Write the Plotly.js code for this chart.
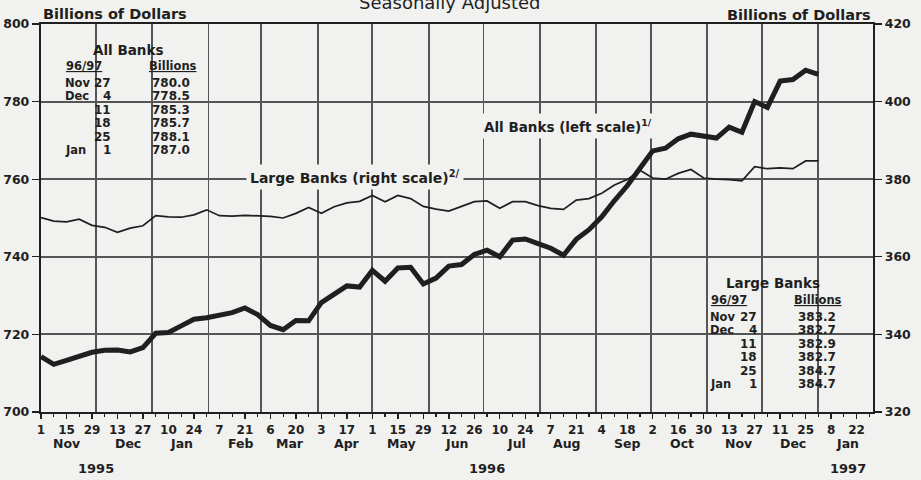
<!DOCTYPE html>
<html>
<head>
<meta charset="utf-8">
<script src="https://cdn.plot.ly/plotly-3.0.1.min.js"></script>
<style>
html,body{margin:0;padding:0;background:#f1f1ef;}
#chart{width:921px;height:480px;}
</style>
</head>
<body>
<div id="chart"></div>
<script>
// ---------- DATA ----------
const weeks = [
 '1995-11-01','1995-11-08','1995-11-15','1995-11-22','1995-11-29','1995-12-06','1995-12-13','1995-12-20','1995-12-27',
 '1996-01-03','1996-01-10','1996-01-17','1996-01-24','1996-01-31','1996-02-07','1996-02-14','1996-02-21','1996-02-28',
 '1996-03-06','1996-03-13','1996-03-20','1996-03-27','1996-04-03','1996-04-10','1996-04-17','1996-04-24',
 '1996-05-01','1996-05-08','1996-05-15','1996-05-22','1996-05-29','1996-06-05','1996-06-12','1996-06-19','1996-06-26',
 '1996-07-03','1996-07-10','1996-07-17','1996-07-24','1996-07-31','1996-08-07','1996-08-14','1996-08-21','1996-08-28',
 '1996-09-04','1996-09-11','1996-09-18','1996-09-25','1996-10-02','1996-10-09','1996-10-16','1996-10-23','1996-10-30',
 '1996-11-06','1996-11-13','1996-11-20','1996-11-27','1996-12-04','1996-12-11','1996-12-18','1996-12-25','1997-01-01'
];
const allBanks = [
 714.3,712.3,713.3,714.5,715.4,715.9,716.0,715.5,716.6,
 720.3,720.5,722.2,723.9,724.3,725.0,725.6,726.8,725.1,
 722.3,721.2,723.6,723.5,728.2,730.4,732.5,732.2,
 736.5,733.7,737.1,737.3,733.0,734.5,737.6,738.0,740.6,
 741.7,740.0,744.3,744.6,743.4,742.2,740.4,744.5,747.0,
 750.3,754.5,758.3,762.8,767.3,768.0,770.4,771.6,771.0,
 770.6,773.4,772.1,780.0,778.5,785.3,785.7,788.1,787.0
];
const largeBanks = [
 370.1,369.2,369.0,369.7,368.1,367.6,366.3,367.4,368.0,
 370.6,370.3,370.2,370.8,372.1,370.6,370.5,370.7,370.6,
 370.4,370.0,371.2,372.7,371.2,372.9,373.9,374.3,
 375.8,374.2,375.8,375.0,373.0,372.3,371.8,373.0,374.2,
 374.4,372.5,374.2,374.2,373.2,372.5,372.2,374.6,375.0,
 376.4,378.5,379.9,382.3,380.3,380.0,381.5,382.5,380.3,
 380.0,379.9,379.6,383.2,382.7,382.9,382.7,384.7,384.7
];
const leftTicks = [700,720,740,760,780,800];
const rightTicks = [320,340,360,380,400,420];
const monthStarts = ['1995-12-01','1996-01-01','1996-02-01','1996-03-01','1996-04-01','1996-05-01','1996-06-01',
 '1996-07-01','1996-08-01','1996-09-01','1996-10-01','1996-11-01','1996-12-01','1997-01-01'];
const monthLabels = ['Nov','Dec','Jan','Feb','Mar','Apr','May','Jun','Jul','Aug','Sep','Oct','Nov','Dec','Jan'];
const monthLabelDates = ['1995-11-15','1995-12-19','1996-01-17','1996-02-19','1996-03-17','1996-04-17','1996-05-17',
 '1996-06-16','1996-07-19','1996-08-16','1996-09-18','1996-10-18','1996-11-18','1996-12-18','1997-01-17'];
const yearLabels = ['1995','1996','1997'];
const yearLabelDates = ['1995-12-01','1996-07-03','1997-01-17'];
const tblMonths = ['Nov','Dec','','','','Jan'];
const tblDays = ['27','4','11','18','25','1'];
const allTblVals = ['780.0','778.5','785.3','785.7','788.1','787.0'];
const largeTblVals = ['383.2','382.7','382.9','382.7','384.7','384.7'];

// ---------- LAYOUT HELPERS ----------
const W = 921, H = 480, L = 41, R = 48, T = 24, B = 68;
const PW = W - L - R, PH = H - T - B;
const px = X => (X - L) / PW;
const py = Y => 1 - (Y - T) / PH;
const BG = '#f1f1ef';
const INK = '#1f1f1f';
const GRID = '#555555';
const FAM = 'DejaVu Sans';
const f = (size, weight) => ({family: FAM, size: size, color: INK, weight: weight || 'bold'});

const ann = [];
function txt(X, Y, text, size, xanchor, extra) {
  ann.push(Object.assign({xref:'paper', yref:'paper', x:px(X), y:py(Y), text:text, showarrow:false,
    xanchor:xanchor||'center', yanchor:'middle', font:f(size)}, extra||{}));
}
// title (cut off at top in the reference)
txt(450, 3, 'Seasonally Adjusted', 18, 'center', {font:f(18,'normal')});
txt(41, 14, 'Billions of Dollars', 14.5, 'left');
txt(873, 15, 'Billions of Dollars', 14.5, 'right');
// series labels
txt(480, 126, 'All Banks (left scale)<sup>1/</sup>', 13.5, 'left', {bgcolor:BG, borderpad:3});
txt(246, 177, 'Large Banks (right scale)<sup>2/</sup>', 14, 'left', {bgcolor:BG, borderpad:3});

// tables
function table(title, titleX, titleY, monX, dayX, valX, hdr1X, hdr2X, hdrY, row0Y, vals) {
  txt(titleX, titleY, title, 13.5, 'center');
  txt(hdr1X, hdrY, '<u>96/97</u>', 11.5, 'left');
  txt(hdr2X, hdrY, '<u>Billions</u>', 11.5, 'center');
  for (let i = 0; i < vals.length; i++) {
    const Y = row0Y + i * 13.4;
    if (tblMonths[i]) txt(monX, Y, tblMonths[i], 11.5, 'left');
    txt(dayX, Y, tblDays[i], 12, 'right');
    txt(valX, Y, vals[i], 12, 'right');
  }
}
table('All Banks', 128, 50, 63, 113, 192, 64, 173, 66, 83, allTblVals);
table('Large Banks', 773, 283, 708, 759, 838, 709, 818, 300, 317, largeTblVals);

// month & year labels under the axis
monthLabels.forEach((m, i) => ann.push({xref:'x', yref:'paper', x:monthLabelDates[i], y:py(443), text:m,
  showarrow:false, xanchor:'center', yanchor:'middle', font:f(12.5)}));
yearLabels.forEach((m, i) => ann.push({xref:'x', yref:'paper', x:yearLabelDates[i], y:py(469), text:m,
  showarrow:false, xanchor:'center', yanchor:'middle', font:f(13)}));

// paper-coloured boxes behind tables (they interrupt the grid)
const box = (x0, y0, x1, y1) => ({type:'rect', xref:'paper', yref:'paper', x0:px(x0), x1:px(x1), y0:py(y1), y1:py(y0),
  fillcolor:BG, line:{width:0}, layer:'between'});
const shapes = [box(53, 37, 203, 162), box(698, 263, 847, 393)];

const DAY = 86400000;
const xRange = ['1995-11-01', '1997-01-31'];

const traces = [
  {x: weeks, y: allBanks, type:'scatter', mode:'lines', xaxis:'x', yaxis:'y',
   line:{color:INK, width:5}, hoverinfo:'skip', name:'All Banks'},
  {x: weeks, y: largeBanks, type:'scatter', mode:'lines', xaxis:'x2', yaxis:'y2',
   line:{color:INK, width:1.7}, hoverinfo:'skip', name:'Large Banks'}
];

const layout = {
  width: W, height: H,
  margin: {l:L, r:R, t:T, b:B, pad:0},
  paper_bgcolor: BG, plot_bgcolor: BG,
  showlegend: false,
  xaxis: {type:'date', range:xRange, tickmode:'linear', tick0:'1995-11-01', dtick:14*DAY, tickformat:'%-d',
    ticks:'outside', ticklen:5, tickwidth:1.4, tickcolor:INK, tickfont:f(12),
    showgrid:false, zeroline:false, showline:true, linewidth:2.2, linecolor:INK, mirror:true,
    minor:{tick0:'1995-11-01', dtick:7*DAY, ticks:'outside', ticklen:3, tickwidth:1.2, tickcolor:INK, showgrid:false},
    fixedrange:true},
  xaxis2: {type:'date', range:xRange, overlaying:'x', tickmode:'array', tickvals:monthStarts,
    showticklabels:false, ticks:'', showgrid:true, gridcolor:GRID, gridwidth:1.8,
    showline:false, zeroline:false, fixedrange:true},
  yaxis: {range:[700,800], tickmode:'array', tickvals:leftTicks, ticks:'outside', ticklen:7, tickwidth:1.4,
    tickcolor:INK, tickfont:f(12.5), showgrid:true, gridcolor:GRID, gridwidth:1.8,
    showline:true, linewidth:2.2, linecolor:INK, mirror:true, zeroline:false, fixedrange:true},
  yaxis2: {range:[320,420], overlaying:'y', side:'right', tickmode:'array', tickvals:rightTicks,
    ticks:'outside', ticklen:7, tickwidth:1.4, tickcolor:INK, tickfont:f(12.5),
    showgrid:false, showline:true, linewidth:2.2, linecolor:INK, zeroline:false, fixedrange:true},
  annotations: ann,
  shapes: shapes
};

Plotly.newPlot('chart', traces, layout, {staticPlot:true, displayModeBar:false});
</script>
</body>
</html>
